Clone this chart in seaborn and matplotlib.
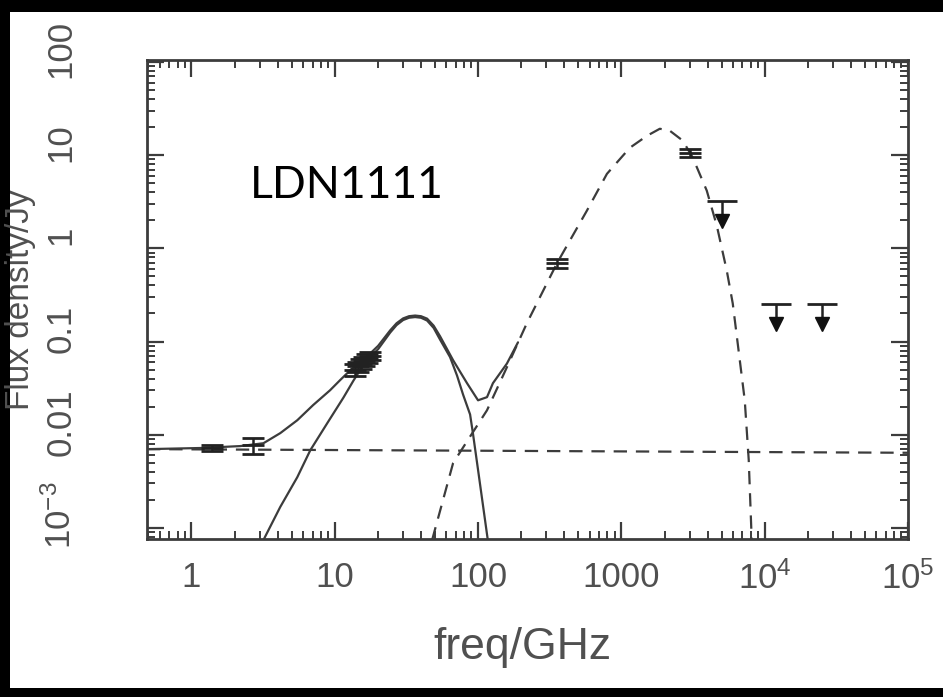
import numpy as np
import pandas as pd
import seaborn as sns
import matplotlib
matplotlib.use("Agg")
import matplotlib.pyplot as plt
from matplotlib.patches import Rectangle
from matplotlib.transforms import offset_copy, ScaledTranslation

# ---------------- measured flux densities ----------------
# low-frequency points
lowf_freq = [1.4, 2.7]
lowf_flux = [0.0072, 0.0077]
lowf_err = [0.0005, 0.0015]

# cm-wave channels
cm_freq = [13.9, 14.6, 15.3, 16.1, 16.9, 17.6]
cm_flux = [0.050, 0.054, 0.058, 0.062, 0.066, 0.070]
cm_err = [0.007, 0.007, 0.007, 0.007, 0.007, 0.007]

# sub-mm / far-IR detections
ir_freq = [355.0, 3000.0]
ir_flux = [0.69, 10.6]
ir_err = [0.07, 1.0]

# far-IR upper limits
lim_freq = [5000.0, 12000.0, 25000.0]
lim_flux = [3.2, 0.25, 0.25]

# ---------------- model components ----------------
ff_freq = [0.49, 1.0e5]
ff_flux = [0.0070, 0.0064]

spin_freq = [3.18, 4.17, 5.48, 6.75, 8.87, 11.5, 13.5, 16.3, 20.1, 24.4, 27.0,
             30.0, 33.0, 36.4, 40.0, 44.1, 49.0, 54.3, 63.8, 71.4, 78.6, 88.0,
             92.0, 100.0, 117.0]
spin_flux = [7.4e-4, 1.68e-3, 3.5e-3, 6.8e-3, 0.0133, 0.025, 0.038, 0.060, 0.083,
             0.125, 0.150, 0.170, 0.180, 0.183, 0.180, 0.168, 0.140, 0.105,
             0.068, 0.043, 0.027, 0.0165, 0.0105, 0.0042, 7.4e-4]

dust_freq = [47.8, 67.0, 115.5, 159.0, 219.0, 355.0, 575.0, 793.0, 1146.0,
             1506.0, 1855.0, 2177.0, 2684.0, 3150.0, 3944.0, 4634.0, 5437.0,
             5985.0, 6480.0, 7260.0, 7740.0, 8120.0]
dust_flux = [7.4e-4, 4.97e-3, 0.0183, 0.053, 0.157, 0.69, 2.54, 6.3, 12.0, 16.1,
             19.2, 18.3, 14.3, 9.4, 4.16, 1.75, 0.578, 0.257, 0.096, 0.0234,
             5.35e-3, 7.4e-4]

total_freq = [0.49, 1.16, 2.19, 3.18, 4.17, 5.48, 7.07, 9.28, 10.9, 12.8, 16.3,
              20.1, 24.4, 27.0, 30.0, 33.0, 36.4, 40.0, 44.1, 49.0, 54.3, 67.0,
              83.8, 100.0, 115.5, 127.0, 159.0, 190.0]
total_flux = [0.0070, 0.0072, 0.00755, 0.0081, 0.0104, 0.0143, 0.0208, 0.030,
              0.0385, 0.049, 0.066, 0.090, 0.132, 0.157, 0.177, 0.187, 0.190,
              0.187, 0.176, 0.148, 0.114, 0.063, 0.0357, 0.0234, 0.0253, 0.0357,
              0.058, 0.098]

x_ticks = [1, 10, 100, 1000, 1e4, 1e5]
x_ticklabels = ["1", "10", "100", "1000", r"$10^4$", r"$10^5$"]
y_ticks = [1e-3, 0.01, 0.1, 1, 10, 100]
y_ticklabels = [r"$10^{-3}$", "0.01", "0.1", "1", "10", "100"]

# ---------------- styling ----------------
sns.set_theme(style="ticks")
plt.rcParams["font.family"] = ["Liberation Sans", "DejaVu Sans"]
plt.rcParams["mathtext.fontset"] = "custom"
plt.rcParams["mathtext.rm"] = "Liberation Sans"
plt.rcParams["mathtext.it"] = "Liberation Sans"

INK = "#3c3c3c"
TXT = "#505050"

fig = plt.figure(figsize=(9.43, 6.97), dpi=100, facecolor="black")
fig.patches.append(Rectangle((10 / 943, 9 / 697), 933 / 943, 676 / 697,
                             transform=fig.transFigure, facecolor="white",
                             edgecolor="none", zorder=-10))
ax = fig.add_axes([147 / 943, (697 - 539) / 697, (908 - 147) / 943, (539 - 60) / 697])
ax.set_zorder(1)
ax.set_facecolor("white")
ax.set_xscale("log")
ax.set_yscale("log")

lw = 1.6
curves = [
    (ff_freq, ff_flux, (0, (6, 4))),
    (dust_freq, dust_flux, (0, (6, 4))),
    (spin_freq, spin_flux, "-"),
    (total_freq, total_flux, "-"),
]
for fx, fy, ls in curves:
    df = pd.DataFrame({"freq": fx, "flux": fy})
    sns.lineplot(data=df, x="freq", y="flux", ax=ax, color=INK, lw=lw,
                 sort=False, estimator=None, linestyle=ls)

for fx, fy, fe in [(lowf_freq, lowf_flux, lowf_err), (cm_freq, cm_flux, cm_err),
                   (ir_freq, ir_flux, ir_err)]:
    ax.errorbar(fx, fy, yerr=fe, fmt="_", color="#222222", ms=16, mew=2.0,
                elinewidth=1.8, capsize=8, capthick=1.8, zorder=5)

# upper limits: bar at the limit, short stem and a downward arrow head
ax.plot(lim_freq, lim_flux, ls="none", marker="_", ms=22, mew=2.0, color="#222222")
stem_tr = offset_copy(ax.transData, fig=fig, y=-7, units="dots")
head_tr = offset_copy(ax.transData, fig=fig, y=-20, units="dots")
ax.plot(lim_freq, lim_flux, ls="none", marker="|", ms=10, mew=1.8,
        color="#222222", transform=stem_tr)
ax.plot(lim_freq, lim_flux, ls="none", marker="v", ms=10, color="#111111",
        transform=head_tr)

ax.set_xlim(0.49, 1.0e5)
ax.set_ylim(7.6e-4, 105)

ax.set_xticks(x_ticks)
ax.set_xticklabels(x_ticklabels)
ax.set_yticks(y_ticks)
ax.set_yticklabels(y_ticklabels, rotation=90, va="center")
ax.xaxis.set_minor_locator(matplotlib.ticker.LogLocator(base=10, subs=np.arange(2, 10)))
ax.yaxis.set_minor_locator(matplotlib.ticker.LogLocator(base=10, subs=np.arange(2, 10)))
ax.xaxis.set_minor_formatter(matplotlib.ticker.NullFormatter())
ax.yaxis.set_minor_formatter(matplotlib.ticker.NullFormatter())

ax.tick_params(which="both", direction="in", top=True, right=True, color=INK,
               labelcolor=TXT, labelsize=25)
ax.tick_params(which="major", length=12, width=1.6)
ax.tick_params(which="minor", length=6, width=1.4)
ax.tick_params(axis="x", pad=16)
ax.tick_params(axis="y", pad=50)
for sp in ax.spines.values():
    sp.set_color(INK)
    sp.set_linewidth(2.0)

# y tick labels sit slightly above their ticks
lift = ScaledTranslation(0, 0.13, fig.dpi_scale_trans)
for lbl in ax.get_yticklabels():
    lbl.set_transform(lbl.get_transform() + lift)

ax.set_xlabel("")
ax.set_ylabel("")
fig.text(522 / 943, 1 - 647 / 697, "freq/GHz", fontsize=32, color=TXT,
         ha="center", va="center")
fig.text(21 / 943, 1 - 300 / 697, "Flux density/Jy", rotation=90, fontsize=24,
         color=TXT, ha="center", va="center")

ax.text(250 / 943, 1 - 185 / 697, "LDN1111", transform=fig.transFigure,
        fontsize=32, family=["Lato", "DejaVu Sans"], color="black",
        ha="left", va="center")

fig.savefig("out.png", dpi=100, facecolor="black")
